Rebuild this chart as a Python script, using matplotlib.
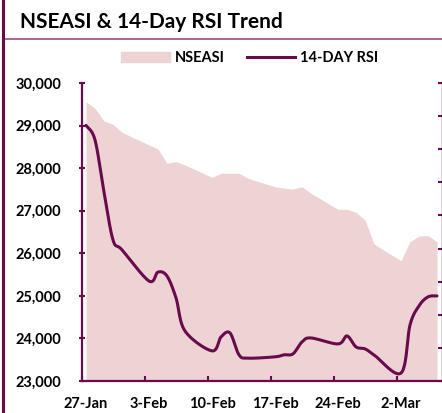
import matplotlib.pyplot as plt
import numpy as np
import pandas as pd
from matplotlib.lines import Line2D

# NSEASI close and 14-day RSI, trading days 27 Jan - 6 Mar 2020
dates = pd.bdate_range('2020-01-27', '2020-03-06')
nseasi = [29561, 29406, 29107, 29030, 28842,
          28546, 28450, 28114, 28151, 28074,
          27785, 27879, 27879, 27879, 27761,
          27564, 27530, 27510, 27564, 27409,
          27033, 27033, 26963, 26782, 26218,
          25826, 26272, 26406, 26413, 26272]
rsi = [87.2, 82.8, 67.1, 52.6, 49.6,
       40.2, 42.9, 41.7, 35.1, 25.1,
       19.1, 23.3, 24.5, 17.9, 16.9,
       17.3, 17.9, 18.2, 21.8, 23.0,
       21.2, 23.6, 20.3, 19.7, 17.9,
       12.4, 26.9, 32.7, 35.4, 35.7]
label_dates = pd.date_range('2020-01-27', periods=6, freq='7D')

MAROON = '#680A4C'
PINK = '#EED3D4'

plt.rcParams['font.family'] = ['Lato', 'DejaVu Sans']
plt.rcParams['font.weight'] = 'bold'

x = np.array((dates - dates[0]).days, dtype=float)
lx = np.array((label_dates - dates[0]).days, dtype=float)

W, H = 442, 413
fig = plt.figure(figsize=(W / 100, H / 100), dpi=100)
ax = fig.add_axes([81.5 / W, 1 - 381 / H, 360 / W, 298 / H])

# NSEASI area
ax.fill_between(x, 23000, nseasi, color=PINK, lw=0, zorder=1)
ax.set_xlim(-0.5, x[-1] + 0.5)
ax.set_ylim(23000, 30000)
ax.set_yticks(range(23000, 30001, 1000))
ax.yaxis.set_major_formatter(lambda v, p: f'{v:,.0f}')
ax.set_xticks(lx - 0.5)
ax.set_xticklabels([])
ax.set_xticks(lx, [f'{d.day}-{d.strftime("%b")}' for d in label_dates],
              minor=True)
ax.tick_params(axis='x', which='major', direction='in', length=3.6,
               width=1.5, color=MAROON)
ax.tick_params(axis='x', which='minor', length=0, pad=11.5, labelsize=10.5)
ax.tick_params(axis='y', direction='inout', length=4.5, width=1.5,
               color=MAROON, pad=12.5, labelsize=10.5)
for s in ['top', 'right']:
    ax.spines[s].set_visible(False)
for s in ['left', 'bottom']:
    ax.spines[s].set_color(MAROON)
    ax.spines[s].set_linewidth(1.6)

# RSI on secondary axis
ax2 = ax.twinx()
ax2.set_ylim(10, 100)
ax2.set_yticks(range(10, 101, 10))
ax2.tick_params(axis='y', direction='in', length=3.2, width=1.5,
                color=MAROON, labelright=False)
for s in ['top', 'left', 'bottom']:
    ax2.spines[s].set_visible(False)
ax2.spines['right'].set_color(MAROON)
ax2.spines['right'].set_linewidth(1.0)

# smoothed line (Excel style bezier) computed in pixel space
pts = ax2.transData.transform(np.column_stack([x, rsi]))
P = np.vstack([pts[0], pts, pts[-1]])
t = np.linspace(0, 1, 25)[:, None]
curve = []
for i in range(1, len(P) - 2):
    p0, p1 = P[i], P[i + 1]
    c1 = p0 + (P[i + 1] - P[i - 1]) / 6
    c2 = p1 - (P[i + 2] - P[i]) / 6
    seg = ((1 - t) ** 3) * p0 + 3 * ((1 - t) ** 2) * t * c1 \
        + 3 * (1 - t) * t ** 2 * c2 + t ** 3 * p1
    curve.append(seg)
curve = ax2.transData.inverted().transform(np.vstack(curve))
ax2.plot(curve[:, 0], curve[:, 1], color=MAROON, lw=2.2,
         solid_capstyle='round', zorder=3)

# title, rules and legend
fig.text(20 / W, 1 - 28 / H, 'NSEASI & 14-Day RSI Trend', fontsize=15,
         fontweight='bold', va='baseline', ha='left')
fig.add_artist(Line2D([4 / W, 1], [1 - 39 / H, 1 - 39 / H],
                      transform=fig.transFigure, color='#8E3D72', lw=1.1))
fig.add_artist(Line2D([3 / W, 3 / W], [0, 1], transform=fig.transFigure,
                      color=MAROON, lw=2.2))

handles = [plt.Rectangle((0, 0), 1, 1, color=PINK),
           Line2D([], [], color=MAROON, lw=2.2)]
fig.legend(handles, ['NSEASI', '14-DAY RSI'], loc='center',
           bbox_to_anchor=(250 / W, 1 - 58 / H), ncol=2, frameon=False,
           fontsize=10.5, handlelength=3.3, handleheight=0.7,
           handletextpad=0.35, columnspacing=1.55)

fig.savefig('out.png', dpi=100)
